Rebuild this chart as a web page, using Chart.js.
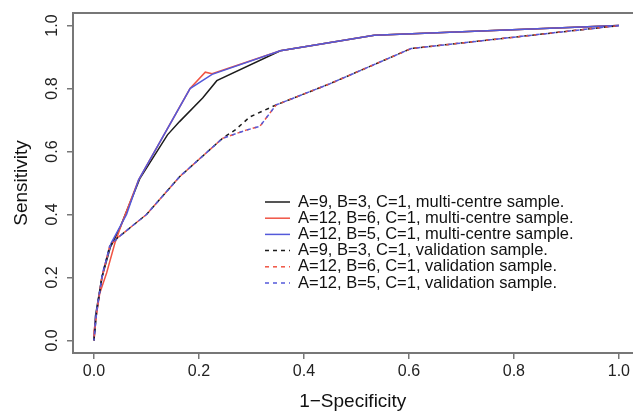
<!DOCTYPE html>
<html>
<head>
<meta charset="utf-8">
<script src="https://cdn.jsdelivr.net/npm/chart.js@4.4.1/dist/chart.umd.min.js"></script>
<style>
    html, body { margin: 0; padding: 0; overflow: hidden; background: #fff; }
</style>
</head>
<body>
<canvas id="roc_chart" width="633" height="411"></canvas>
<script>
// ROC curves
var xTicks = [0, 0.2, 0.4, 0.6, 0.8, 1.0];
var yTicks = [0, 0.2, 0.4, 0.6, 0.8, 1.0];

// multi-centre sample (solid)
var fprA9Multi  = [0, 0.003, 0.015, 0.031, 0.05, 0.087, 0.14, 0.163, 0.207, 0.234, 0.355, 0.534, 1];
var tprA9Multi  = [0, 0.08, 0.2, 0.295, 0.36, 0.513, 0.653, 0.695, 0.77, 0.825, 0.92, 0.969, 1];
var fprA12B6Multi = [0, 0, 0.011, 0.024, 0.04, 0.056, 0.085, 0.183, 0.212, 0.225, 0.355, 0.534, 1];
var tprA12B6Multi = [0, 0.03, 0.15, 0.214, 0.31, 0.385, 0.51, 0.80, 0.852, 0.847, 0.92, 0.969, 1];
var fprA12B5Multi = [0, 0.003, 0.018, 0.033, 0.062, 0.085, 0.183, 0.225, 0.355, 0.534, 1];
var tprA12B5Multi = [0, 0.075, 0.225, 0.31, 0.40, 0.51, 0.80, 0.845, 0.92, 0.969, 1];

// validation sample (dashed)
var fprA9Valid  = [0, 0.005, 0.015, 0.03, 0.045, 0.1, 0.163, 0.245, 0.27, 0.297, 0.347, 0.449, 0.604, 1];
var tprA9Valid  = [0, 0.09, 0.2, 0.3, 0.326, 0.40, 0.52, 0.642, 0.67, 0.71, 0.748, 0.815, 0.927, 1];
var fprA12B6Valid = [0, 0.005, 0.015, 0.03, 0.045, 0.1, 0.163, 0.245, 0.29, 0.316, 0.347, 0.449, 0.604, 1];
var tprA12B6Valid = [0, 0.09, 0.2, 0.3, 0.326, 0.40, 0.52, 0.642, 0.668, 0.68, 0.748, 0.815, 0.927, 1];
var fprA12B5Valid = [0, 0.005, 0.015, 0.03, 0.045, 0.1, 0.163, 0.245, 0.29, 0.316, 0.347, 0.449, 0.604, 1];
var tprA12B5Valid = [0, 0.09, 0.2, 0.3, 0.326, 0.40, 0.52, 0.642, 0.668, 0.68, 0.748, 0.815, 0.927, 1];

var seriesLabels = [
    'A=9, B=3, C=1, multi-centre sample.',
    'A=12, B=6, C=1, multi-centre sample.',
    'A=12, B=5, C=1, multi-centre sample.',
    'A=9, B=3, C=1, validation sample.',
    'A=12, B=6, C=1, validation sample.',
    'A=12, B=5, C=1, validation sample.'
];

function toPoints(xs, ys) {
    return xs.map(function(x, i) { return {x: x, y: ys[i]}; });
}

var BLACK = '#1c1c1c';
var RED = '#f05444';
var BLUE = '#5459da';
var FONT = '"Liberation Sans", Arial, Helvetica, sans-serif';

function line(label, xs, ys, color, dash, offset, order) {
    return {
        label: label,
        data: toPoints(xs, ys),
        borderColor: color,
        backgroundColor: color,
        borderWidth: 1.5,
        borderDash: dash,
        borderDashOffset: offset,
        showLine: true,
        pointRadius: 0,
        tension: 0,
        fill: false,
        order: order  // later series drawn on top, like R
    };
}

var datasets = [
    line(seriesLabels[0], fprA9Multi, tprA9Multi, BLACK, [], 0, 6),
    line(seriesLabels[1], fprA12B6Multi, tprA12B6Multi, RED, [], 0, 5),
    line(seriesLabels[2], fprA12B5Multi, tprA12B5Multi, BLUE, [], 0, 4),
    line(seriesLabels[3], fprA9Valid, tprA9Valid, BLACK, [4, 4], 0, 3),
    line(seriesLabels[4], fprA12B6Valid, tprA12B6Valid, RED, [4, 4], 4, 2),
    line(seriesLabels[5], fprA12B5Valid, tprA12B5Valid, BLUE, [4, 4], 2, 1)
];

// box round the plot region; right side falls outside the picture
var framePlugin = {
    id: 'frame',
    beforeDatasetsDraw: function(chart) {
        var a = chart.chartArea, c = chart.ctx;
        c.save();
        c.strokeStyle = '#777';
        c.lineWidth = 2;
        c.beginPath();
        c.moveTo(a.right + 5, a.top);
        c.lineTo(a.left, a.top);
        c.lineTo(a.left, a.bottom);
        c.lineTo(a.right + 5, a.bottom);
        c.stroke();
        c.restore();
    }
};

// legend drawn inside the plot, no box
var legendPlugin = {
    id: 'insideLegend',
    afterDatasetsDraw: function(chart) {
        var c = chart.ctx;
        var x0 = 265, x1 = 290, tx = 298, y0 = 202, step = 16.2;
        c.save();
        c.font = '16.5px ' + FONT;
        c.textBaseline = 'middle';
        chart.data.datasets.forEach(function(ds, i) {
            var y = y0 + i * step;
            c.beginPath();
            c.setLineDash(ds.borderDash);
            c.lineDashOffset = 0;
            c.strokeStyle = ds.borderColor;
            c.lineWidth = 1.5;
            c.moveTo(x0, y);
            c.lineTo(x1, y);
            c.stroke();
            c.setLineDash([]);
            c.fillStyle = '#111';
            c.fillText(ds.label, tx, y);
        });
        c.restore();
    }
};

var ctx = document.getElementById('roc_chart').getContext('2d');
var rocChart = new Chart(ctx, {
    type: 'scatter',
    data: { datasets: datasets },
    plugins: [framePlugin, legendPlugin],
    options: {
        responsive: false,
        animation: false,
        layout: { padding: { top: 13, right: 0, bottom: 0, left: 0 } },
        plugins: {
            legend: { display: false },
            tooltip: { enabled: false }
        },
        scales: {
            x: {
                type: 'linear',
                min: -0.04,
                max: 1.026,
                afterBuildTicks: function(s) { s.ticks = xTicks.map(function(v) { return {value: v}; }); },
                afterFit: function(s) { s.height = 58; },
                border: { display: false },
                grid: { display: true, drawOnChartArea: false, drawTicks: true, tickLength: 6, color: '#777', lineWidth: 1.5 },
                ticks: {
                    padding: 3,
                    color: '#222',
                    font: { family: FONT, size: 16 },
                    maxRotation: 0,
                    callback: function(v) { return Number(v).toFixed(1); }
                },
                title: {
                    display: true,
                    text: '1\u2212Specificity',
                    color: '#111',
                    padding: 0,
                    font: { family: FONT, size: 19, lineHeight: 1 }
                }
            },
            y: {
                type: 'linear',
                min: -0.04,
                max: 1.04,
                afterBuildTicks: function(s) { s.ticks = yTicks.map(function(v) { return {value: v}; }); },
                afterFit: function(s) { s.width = 73; },
                border: { display: false },
                grid: { display: true, drawOnChartArea: false, drawTicks: true, tickLength: 6, color: '#777', lineWidth: 1.5 },
                ticks: {
                    padding: 3,
                    color: '#222',
                    minRotation: 90,
                    maxRotation: 90,
                    crossAlign: 'center',
                    font: { family: FONT, size: 16 },
                    callback: function(v) { return Number(v).toFixed(1); }
                },
                title: {
                    display: true,
                    text: 'Sensitivity',
                    color: '#111',
                    padding: { top: 12.5, bottom: 0 },
                    font: { family: FONT, size: 19, lineHeight: 1 }
                }
            }
        }
    }
});
</script>
</body>
</html>
